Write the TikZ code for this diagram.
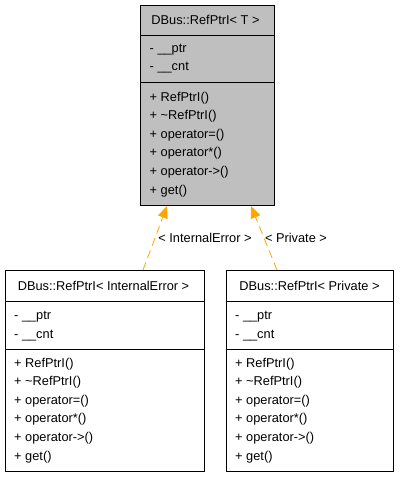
\documentclass[tikz,border=0pt]{standalone}
\usepackage{fontspec}
\setmainfont{Liberation Sans}
\usetikzlibrary{arrows.meta}
\definecolor{boxgray}{HTML}{BFBFBF}
\definecolor{inhorange}{HTML}{FFA500}
\tikzset{
  cls/.style={draw=black, line width=0.9pt},
  sep/.style={draw=black, line width=0.9pt},
  txt/.style={anchor=base west, inner sep=0pt, font=\fontsize{12.8}{15}\selectfont},
  ttl/.style={anchor=base, inner sep=0pt, font=\fontsize{12.8}{15}\selectfont},
  inh/.style={draw=inhorange, dash pattern=on 8pt off 5pt, line width=0.8pt,
    -{Triangle[length=12pt,width=10pt,fill=inhorange]}},
}
\begin{document}
\begin{tikzpicture}[x=1pt,y=-1pt]
\useasboundingbox (0,0) rectangle (400,477);
% top class
\filldraw[cls, fill=boxgray] (140,5) rectangle (274,205);
\draw[sep] (140,35) -- (274,35);
\draw[sep] (140,82) -- (274,82);
\node[ttl] (ttitle) at (205.5,24) {DBus::RefPtrI< T >};
\node[txt] (tm1) at (149.5,52) {- \_\_ptr};
\node[txt] (tm2) at (149.5,70.5) {- \_\_cnt};
\foreach \t [count=\i from 0] in {RefPtrI(),\textasciitilde RefPtrI(),operator=(),operator*(),operator->(),get()}
  \node[txt] (tf\i) at (149.5,101+18.6*\i) {+ \t};
\coordinate (tA) at (167,206);
\coordinate (tB) at (251,206);
% left class
\draw[cls, fill=white] (5,270) rectangle (204,471);
\draw[sep] (5,301) -- (204,301);
\draw[sep] (5,349) -- (204,349);
\node[ttl] (ltitle) at (103.5,290) {DBus::RefPtrI< InternalError >};
\node[txt] (lm1) at (14,319.5) {- \_\_ptr};
\node[txt] (lm2) at (14,338) {- \_\_cnt};
\foreach \t [count=\i from 0] in {RefPtrI(),\textasciitilde RefPtrI(),operator=(),operator*(),operator->(),get()}
  \node[txt] (lf\i) at (14,367+18.6*\i) {+ \t};
\coordinate (lA) at (143,270);
% right class
\draw[cls, fill=white] (226,270) rectangle (393,471);
\draw[sep] (226,301) -- (393,301);
\draw[sep] (226,349) -- (393,349);
\node[ttl] (rtitle) at (309.5,290) {DBus::RefPtrI< Private >};
\node[txt] (rm1) at (235,319.5) {- \_\_ptr};
\node[txt] (rm2) at (235,338) {- \_\_cnt};
\foreach \t [count=\i from 0] in {RefPtrI(),\textasciitilde RefPtrI(),operator=(),operator*(),operator->(),get()}
  \node[txt] (rf\i) at (235,367+18.6*\i) {+ \t};
\coordinate (rA) at (277,270);
% inheritance
\draw[inh] (lA) -- (tA);
\draw[inh] (rA) -- (tB);
\node[ttl] (llab) at (205,242.5) {< InternalError >};
\node[ttl] (rlab) at (296,242.5) {< Private >};
\end{tikzpicture}
\end{document}
